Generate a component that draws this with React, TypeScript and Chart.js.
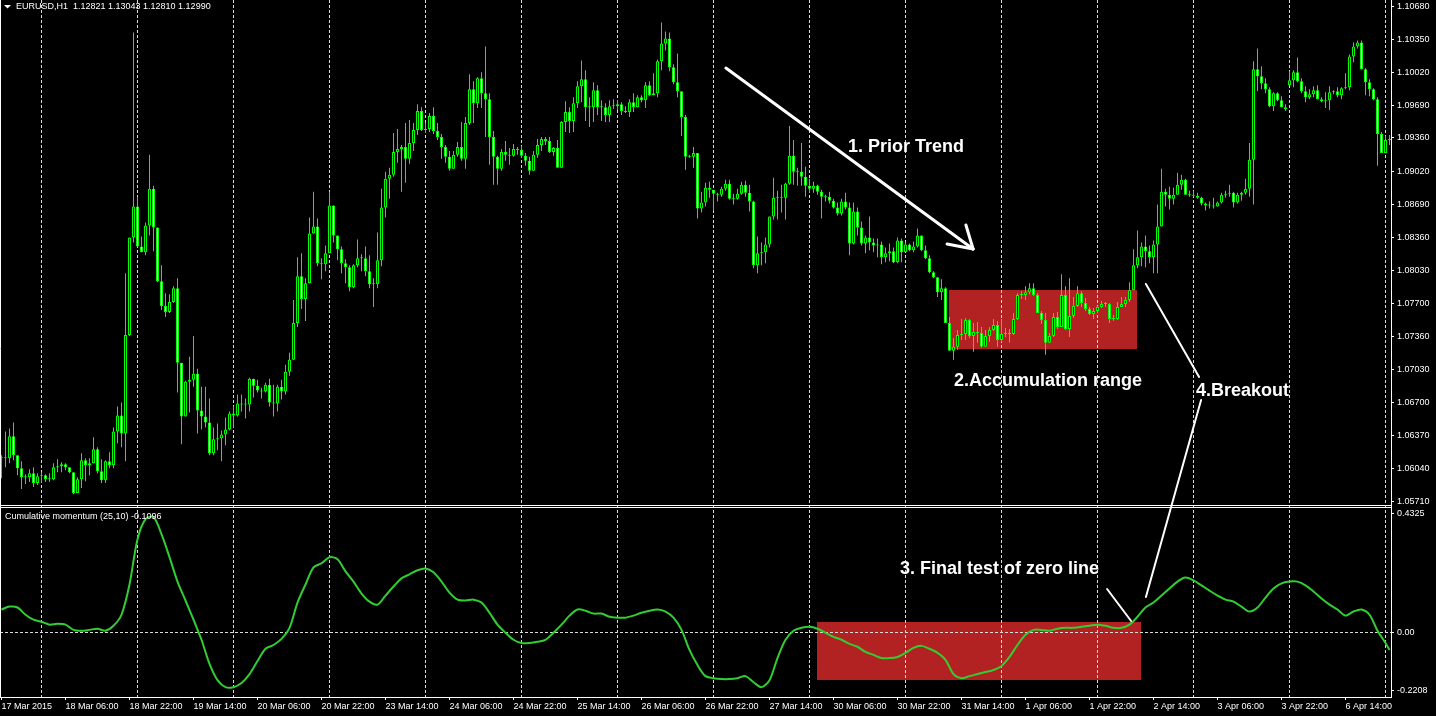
import React, { useEffect, useRef } from 'react';
import { Chart, registerables } from 'chart.js';

Chart.register(...registerables);

// ---------------- data ----------------
const TIME_LABELS = [
  '17 Mar 2015', '18 Mar 06:00', '18 Mar 22:00', '19 Mar 14:00', '20 Mar 06:00', '20 Mar 22:00',
  '23 Mar 14:00', '24 Mar 06:00', '24 Mar 22:00', '25 Mar 14:00', '26 Mar 06:00', '26 Mar 22:00',
  '27 Mar 14:00', '30 Mar 06:00', '30 Mar 22:00', '31 Mar 14:00', '1 Apr 06:00', '1 Apr 22:00',
  '2 Apr 14:00', '3 Apr 06:00', '3 Apr 22:00', '6 Apr 14:00',
];
// bar index of each time label (H1 bars, first bar = 17 Mar 14:00)
const LABEL_BARS = [0, 16, 32, 48, 64, 80, 96, 112, 128, 144, 160, 176, 192, 208, 224, 240, 256, 272, 288, 304, 320, 336];
// bar index of each midnight (vertical grid lines)
const DAY_BARS = [10, 34, 58, 82, 106, 130, 154, 178, 202, 226, 250, 274, 298, 322, 346];

const PRICE_TICKS = [1.1068, 1.1035, 1.1002, 1.0969, 1.0936, 1.0902, 1.0869, 1.0836, 1.0803, 1.077, 1.0736, 1.0703, 1.067, 1.0637, 1.0604, 1.0571];

const OPEN = [
  1.0615, 1.0614, 1.0614, 1.0636, 1.0617, 1.0604, 1.0595, 1.0595, 1.0599, 1.0589,
  1.0596, 1.0597, 1.0593, 1.0593, 1.0605, 1.0606, 1.0608, 1.0605, 1.0600, 1.0579,
  1.0593, 1.0612, 1.0607, 1.0609, 1.0623, 1.0601, 1.0592, 1.0611, 1.0607, 1.0641,
  1.0657, 1.0639, 1.0738, 1.0836, 1.0867, 1.0827, 1.0821, 1.0848, 1.0885, 1.0846,
  1.0792, 1.0767, 1.0761, 1.0771, 1.0785, 1.0710, 1.0656, 1.0691, 1.0693, 1.0699,
  1.0662, 1.0656, 1.0650, 1.0619, 1.0633, 1.0634, 1.0638, 1.0643, 1.0659, 1.0657,
  1.0669, 1.0668, 1.0668, 1.0694, 1.0687, 1.0682, 1.0681, 1.0688, 1.0670, 1.0669,
  1.0686, 1.0681, 1.0701, 1.0713, 1.0750, 1.0797, 1.0774, 1.0790, 1.0840, 1.0847,
  1.0810, 1.0809, 1.0820, 1.0868, 1.0838, 1.0824, 1.0810, 1.0806, 1.0786, 1.0808,
  1.0815, 1.0815, 1.0802, 1.0789, 1.0789, 1.0813, 1.0866, 1.0895, 1.0899, 1.0922,
  1.0925, 1.0927, 1.0915, 1.0931, 1.0944, 1.0963, 1.0944, 1.0945, 1.0958, 1.0943,
  1.0937, 1.0927, 1.0917, 1.0905, 1.0919, 1.0927, 1.0915, 1.0951, 1.0985, 1.0971,
  1.0996, 1.0981, 1.0975, 1.0937, 1.0917, 1.0905, 1.0922, 1.0919, 1.0918, 1.0925,
  1.0924, 1.0918, 1.0913, 1.0903, 1.0919, 1.0929, 1.0935, 1.0933, 1.0922, 1.0926,
  1.0906, 1.0952, 1.0962, 1.0953, 1.0971, 1.0988, 1.0995, 1.0967, 1.0967, 1.0984,
  1.0967, 1.0967, 1.0959, 1.0968, 1.0968, 1.0970, 1.0963, 1.0962, 1.0972, 1.0967,
  1.0977, 1.0974, 1.0989, 1.0979, 1.0981, 1.1013, 1.1031, 1.1036, 1.1007, 1.0992,
  1.0983, 1.0957, 1.0917, 1.0917, 1.0921, 1.0865, 1.0871, 1.0886, 1.0884, 1.0880,
  1.0879, 1.0885, 1.0890, 1.0875, 1.0875, 1.0880, 1.0889, 1.0881, 1.0872, 1.0808,
  1.0820, 1.0821, 1.0829, 1.0857, 1.0876, 1.0876, 1.0876, 1.0890, 1.0918, 1.0902,
  1.0902, 1.0897, 1.0888, 1.0885, 1.0888, 1.0882, 1.0877, 1.0877, 1.0873, 1.0866,
  1.0860, 1.0872, 1.0866, 1.0830, 1.0862, 1.0846, 1.0830, 1.0836, 1.0831, 1.0828,
  1.0829, 1.0816, 1.0820, 1.0822, 1.0811, 1.0833, 1.0821, 1.0829, 1.0823, 1.0827,
  1.0838, 1.0823, 1.0815, 1.0801, 1.0796, 1.0781, 1.0785, 1.0750, 1.0722, 1.0726,
  1.0738, 1.0739, 1.0753, 1.0737, 1.0741, 1.0740, 1.0726, 1.0737, 1.0743, 1.0748,
  1.0733, 1.0739, 1.0740, 1.0739, 1.0754, 1.0778, 1.0778, 1.0781, 1.0785, 1.0778,
  1.0760, 1.0753, 1.0730, 1.0737, 1.0756, 1.0746, 1.0778, 1.0744, 1.0757, 1.0767,
  1.0780, 1.0770, 1.0764, 1.0759, 1.0762, 1.0766, 1.0769, 1.0769, 1.0754, 1.0754,
  1.0766, 1.0769, 1.0773, 1.0783, 1.0808, 1.0816, 1.0827, 1.0822, 1.0816, 1.0829,
  1.0847, 1.0882, 1.0879, 1.0875, 1.0879, 1.0889, 1.0894, 1.0879, 1.0879, 1.0878,
  1.0876, 1.0870, 1.0868, 1.0868, 1.0867, 1.0871, 1.0879, 1.0880, 1.0881, 1.0871,
  1.0879, 1.0881, 1.0885, 1.0914, 1.1005, 1.0998, 1.0991, 1.0985, 1.0968, 1.0981,
  1.0974, 1.0967, 1.0989, 1.0994, 1.1002, 1.0993, 1.0983, 1.0977, 1.0980, 1.0984,
  1.0975, 1.0973, 1.0974, 1.0982, 1.0983, 1.0979, 1.0986, 1.0987, 1.1018, 1.1028,
  1.1032, 1.1005, 1.0992, 1.0985, 1.0975, 1.0940, 1.0921, 1.0934,
];
const HIGH = [
  1.0617, 1.0641, 1.0644, 1.0650, 1.0617, 1.0611, 1.0598, 1.0603, 1.0605, 1.0599,
  1.0600, 1.0598, 1.0599, 1.0609, 1.0613, 1.0610, 1.0609, 1.0605, 1.0600, 1.0595,
  1.0619, 1.0614, 1.0614, 1.0635, 1.0625, 1.0613, 1.0612, 1.0620, 1.0645, 1.0666,
  1.0670, 1.0800, 1.0836, 1.1042, 1.0877, 1.0837, 1.0851, 1.0919, 1.0888, 1.0846,
  1.0808, 1.0780, 1.0779, 1.0787, 1.0795, 1.0710, 1.0692, 1.0716, 1.0737, 1.0704,
  1.0686, 1.0686, 1.0674, 1.0645, 1.0649, 1.0642, 1.0655, 1.0661, 1.0666, 1.0678,
  1.0678, 1.0674, 1.0695, 1.0694, 1.0693, 1.0685, 1.0690, 1.0694, 1.0688, 1.0688,
  1.0693, 1.0708, 1.0720, 1.0773, 1.0816, 1.0820, 1.0795, 1.0856, 1.0882, 1.0855,
  1.0815, 1.0828, 1.0882, 1.0868, 1.0838, 1.0827, 1.0814, 1.0808, 1.0809, 1.0834,
  1.0819, 1.0827, 1.0818, 1.0795, 1.0841, 1.0885, 1.0902, 1.0906, 1.0941, 1.0945,
  1.0929, 1.0951, 1.0954, 1.0951, 1.0970, 1.0967, 1.0951, 1.0961, 1.0967, 1.0951,
  1.0940, 1.0929, 1.0923, 1.0923, 1.0932, 1.0952, 1.0957, 1.1000, 1.0993, 1.0997,
  1.1002, 1.1028, 1.0981, 1.0943, 1.0918, 1.0925, 1.0933, 1.0926, 1.0930, 1.0927,
  1.0928, 1.0921, 1.0917, 1.0923, 1.0935, 1.0937, 1.0937, 1.0937, 1.0927, 1.0934,
  1.0953, 1.0973, 1.0967, 1.0977, 1.0993, 1.1014, 1.1004, 1.0977, 1.0992, 1.0989,
  1.0974, 1.0971, 1.0974, 1.0975, 1.0974, 1.0972, 1.0968, 1.0975, 1.0981, 1.0979,
  1.0979, 1.0992, 1.0993, 1.1001, 1.1015, 1.1052, 1.1043, 1.1042, 1.1010, 1.1021,
  1.0983, 1.0959, 1.0919, 1.0927, 1.0921, 1.0882, 1.0891, 1.0892, 1.0881, 1.0881,
  1.0887, 1.0894, 1.0894, 1.0880, 1.0885, 1.0892, 1.0893, 1.0889, 1.0873, 1.0837,
  1.0831, 1.0836, 1.0857, 1.0896, 1.0883, 1.0889, 1.0891, 1.0948, 1.0934, 1.0906,
  1.0931, 1.0907, 1.0895, 1.0892, 1.0889, 1.0884, 1.0879, 1.0882, 1.0875, 1.0871,
  1.0875, 1.0881, 1.0871, 1.0871, 1.0866, 1.0852, 1.0838, 1.0857, 1.0835, 1.0835,
  1.0832, 1.0826, 1.0830, 1.0826, 1.0836, 1.0835, 1.0831, 1.0830, 1.0832, 1.0845,
  1.0838, 1.0828, 1.0818, 1.0802, 1.0796, 1.0794, 1.0786, 1.0756, 1.0735, 1.0743,
  1.0754, 1.0755, 1.0754, 1.0750, 1.0751, 1.0746, 1.0743, 1.0746, 1.0754, 1.0752,
  1.0754, 1.0745, 1.0744, 1.0760, 1.0780, 1.0782, 1.0787, 1.0790, 1.0790, 1.0780,
  1.0762, 1.0760, 1.0740, 1.0760, 1.0761, 1.0799, 1.0787, 1.0795, 1.0776, 1.0787,
  1.0782, 1.0775, 1.0766, 1.0765, 1.0767, 1.0772, 1.0771, 1.0770, 1.0758, 1.0771,
  1.0776, 1.0776, 1.0791, 1.0824, 1.0843, 1.0831, 1.0838, 1.0828, 1.0833, 1.0869,
  1.0905, 1.0885, 1.0887, 1.0886, 1.0901, 1.0899, 1.0895, 1.0883, 1.0883, 1.0881,
  1.0877, 1.0871, 1.0872, 1.0876, 1.0872, 1.0881, 1.0883, 1.0889, 1.0882, 1.0881,
  1.0882, 1.0895, 1.0931, 1.1013, 1.1026, 1.1008, 1.0996, 1.0987, 1.0982, 1.0982,
  1.0978, 1.0970, 1.1003, 1.1004, 1.1017, 1.0996, 1.0988, 1.0985, 1.0988, 1.0989,
  1.0977, 1.0982, 1.0988, 1.0984, 1.0987, 1.0987, 1.1001, 1.1020, 1.1032, 1.1034,
  1.1034, 1.1006, 1.0995, 1.0986, 1.0977, 1.0942, 1.0938, 1.0939,
];
const LOW = [
  1.0594, 1.0605, 1.0609, 1.0612, 1.0597, 1.0583, 1.0588, 1.0590, 1.0585, 1.0587,
  1.0589, 1.0590, 1.0590, 1.0592, 1.0600, 1.0600, 1.0602, 1.0599, 1.0578, 1.0579,
  1.0584, 1.0591, 1.0597, 1.0609, 1.0599, 1.0589, 1.0589, 1.0604, 1.0604, 1.0629,
  1.0625, 1.0611, 1.0737, 1.0831, 1.0827, 1.0821, 1.0818, 1.0838, 1.0822, 1.0791,
  1.0763, 1.0756, 1.0760, 1.0770, 1.0680, 1.0628, 1.0656, 1.0660, 1.0686, 1.0639,
  1.0643, 1.0645, 1.0617, 1.0617, 1.0622, 1.0611, 1.0627, 1.0642, 1.0645, 1.0656,
  1.0661, 1.0654, 1.0661, 1.0675, 1.0680, 1.0674, 1.0680, 1.0666, 1.0656, 1.0661,
  1.0673, 1.0678, 1.0697, 1.0713, 1.0746, 1.0764, 1.0752, 1.0790, 1.0840, 1.0807,
  1.0794, 1.0802, 1.0833, 1.0831, 1.0813, 1.0800, 1.0790, 1.0782, 1.0785, 1.0806,
  1.0802, 1.0797, 1.0785, 1.0766, 1.0785, 1.0807, 1.0856, 1.0875, 1.0897, 1.0911,
  1.0882, 1.0891, 1.0910, 1.0923, 1.0939, 1.0943, 1.0941, 1.0942, 1.0940, 1.0934,
  1.0915, 1.0911, 1.0903, 1.0905, 1.0917, 1.0913, 1.0905, 1.0949, 1.0951, 1.0966,
  1.0966, 1.0937, 1.0909, 1.0889, 1.0889, 1.0903, 1.0913, 1.0909, 1.0917, 1.0919,
  1.0916, 1.0908, 1.0899, 1.0903, 1.0916, 1.0923, 1.0929, 1.0921, 1.0918, 1.0906,
  1.0906, 1.0942, 1.0941, 1.0942, 1.0966, 1.0972, 1.0953, 1.0947, 1.0952, 1.0959,
  1.0953, 1.0952, 1.0952, 1.0965, 1.0964, 1.0959, 1.0961, 1.0957, 1.0962, 1.0967,
  1.0972, 1.0966, 1.0978, 1.0979, 1.0977, 1.1004, 1.1024, 1.1003, 1.0990, 1.0977,
  1.0938, 1.0904, 1.0916, 1.0906, 1.0855, 1.0861, 1.0867, 1.0876, 1.0863, 1.0872,
  1.0877, 1.0883, 1.0874, 1.0869, 1.0874, 1.0879, 1.0877, 1.0862, 1.0805, 1.0800,
  1.0808, 1.0810, 1.0826, 1.0854, 1.0854, 1.0861, 1.0854, 1.0889, 1.0889, 1.0888,
  1.0888, 1.0877, 1.0881, 1.0881, 1.0879, 1.0855, 1.0872, 1.0870, 1.0865, 1.0858,
  1.0858, 1.0864, 1.0818, 1.0829, 1.0838, 1.0828, 1.0820, 1.0823, 1.0821, 1.0816,
  1.0809, 1.0811, 1.0812, 1.0810, 1.0810, 1.0811, 1.0823, 1.0822, 1.0821, 1.0826,
  1.0822, 1.0814, 1.0800, 1.0795, 1.0776, 1.0773, 1.0750, 1.0722, 1.0713, 1.0723,
  1.0733, 1.0733, 1.0735, 1.0721, 1.0730, 1.0725, 1.0726, 1.0731, 1.0742, 1.0726,
  1.0731, 1.0736, 1.0730, 1.0738, 1.0753, 1.0774, 1.0773, 1.0779, 1.0777, 1.0760,
  1.0749, 1.0718, 1.0730, 1.0736, 1.0744, 1.0746, 1.0743, 1.0736, 1.0755, 1.0766,
  1.0766, 1.0762, 1.0758, 1.0754, 1.0760, 1.0765, 1.0766, 1.0750, 1.0752, 1.0753,
  1.0766, 1.0766, 1.0771, 1.0783, 1.0805, 1.0807, 1.0806, 1.0810, 1.0800, 1.0800,
  1.0847, 1.0867, 1.0864, 1.0869, 1.0879, 1.0884, 1.0879, 1.0877, 1.0877, 1.0875,
  1.0868, 1.0863, 1.0865, 1.0865, 1.0867, 1.0870, 1.0876, 1.0877, 1.0866, 1.0870,
  1.0873, 1.0879, 1.0877, 1.0869, 1.0983, 1.0985, 1.0981, 1.0967, 1.0963, 1.0973,
  1.0967, 1.0963, 1.0989, 1.0987, 1.0992, 1.0981, 1.0972, 1.0975, 1.0977, 1.0975,
  1.0972, 1.0966, 1.0964, 1.0980, 1.0977, 1.0975, 1.0985, 1.0984, 1.1012, 1.1026,
  1.1005, 1.0979, 1.0978, 1.0974, 1.0908, 1.0921, 1.0924, 1.0929,
];
const CLOSE = [
  1.0614, 1.0614, 1.0636, 1.0617, 1.0604, 1.0595, 1.0595, 1.0599, 1.0589, 1.0596,
  1.0597, 1.0593, 1.0593, 1.0605, 1.0606, 1.0608, 1.0605, 1.0600, 1.0579, 1.0593,
  1.0612, 1.0607, 1.0609, 1.0623, 1.0601, 1.0592, 1.0611, 1.0607, 1.0641, 1.0657,
  1.0639, 1.0738, 1.0836, 1.0867, 1.0827, 1.0821, 1.0848, 1.0885, 1.0846, 1.0792,
  1.0767, 1.0761, 1.0771, 1.0785, 1.0710, 1.0656, 1.0691, 1.0693, 1.0699, 1.0662,
  1.0656, 1.0650, 1.0619, 1.0633, 1.0634, 1.0638, 1.0643, 1.0659, 1.0657, 1.0669,
  1.0668, 1.0668, 1.0694, 1.0687, 1.0682, 1.0681, 1.0688, 1.0670, 1.0669, 1.0686,
  1.0681, 1.0701, 1.0713, 1.0750, 1.0797, 1.0774, 1.0790, 1.0840, 1.0847, 1.0810,
  1.0809, 1.0820, 1.0868, 1.0838, 1.0824, 1.0810, 1.0806, 1.0786, 1.0808, 1.0815,
  1.0815, 1.0802, 1.0789, 1.0789, 1.0813, 1.0866, 1.0895, 1.0899, 1.0922, 1.0925,
  1.0927, 1.0915, 1.0931, 1.0944, 1.0963, 1.0944, 1.0945, 1.0958, 1.0943, 1.0937,
  1.0927, 1.0917, 1.0905, 1.0919, 1.0927, 1.0915, 1.0951, 1.0985, 1.0971, 1.0996,
  1.0981, 1.0975, 1.0937, 1.0917, 1.0905, 1.0922, 1.0919, 1.0918, 1.0925, 1.0924,
  1.0918, 1.0913, 1.0903, 1.0919, 1.0929, 1.0935, 1.0933, 1.0922, 1.0926, 1.0906,
  1.0952, 1.0962, 1.0953, 1.0971, 1.0988, 1.0995, 1.0967, 1.0967, 1.0984, 1.0967,
  1.0967, 1.0959, 1.0968, 1.0968, 1.0970, 1.0963, 1.0962, 1.0972, 1.0967, 1.0977,
  1.0974, 1.0989, 1.0979, 1.0981, 1.1013, 1.1031, 1.1036, 1.1007, 1.0992, 1.0983,
  1.0957, 1.0917, 1.0917, 1.0921, 1.0865, 1.0871, 1.0886, 1.0884, 1.0880, 1.0879,
  1.0885, 1.0890, 1.0875, 1.0875, 1.0880, 1.0889, 1.0881, 1.0872, 1.0808, 1.0820,
  1.0821, 1.0829, 1.0857, 1.0876, 1.0876, 1.0876, 1.0890, 1.0918, 1.0902, 1.0902,
  1.0897, 1.0888, 1.0885, 1.0888, 1.0882, 1.0877, 1.0877, 1.0873, 1.0866, 1.0860,
  1.0872, 1.0866, 1.0830, 1.0862, 1.0846, 1.0830, 1.0836, 1.0831, 1.0828, 1.0829,
  1.0816, 1.0820, 1.0822, 1.0811, 1.0833, 1.0821, 1.0829, 1.0823, 1.0827, 1.0838,
  1.0823, 1.0815, 1.0801, 1.0796, 1.0781, 1.0785, 1.0750, 1.0722, 1.0726, 1.0738,
  1.0739, 1.0753, 1.0737, 1.0741, 1.0740, 1.0726, 1.0737, 1.0743, 1.0748, 1.0733,
  1.0739, 1.0740, 1.0739, 1.0754, 1.0778, 1.0778, 1.0781, 1.0785, 1.0778, 1.0760,
  1.0753, 1.0730, 1.0737, 1.0756, 1.0746, 1.0778, 1.0744, 1.0757, 1.0767, 1.0780,
  1.0770, 1.0764, 1.0759, 1.0762, 1.0766, 1.0769, 1.0769, 1.0754, 1.0754, 1.0766,
  1.0769, 1.0773, 1.0783, 1.0808, 1.0816, 1.0827, 1.0822, 1.0816, 1.0829, 1.0847,
  1.0882, 1.0879, 1.0875, 1.0879, 1.0889, 1.0894, 1.0879, 1.0879, 1.0878, 1.0876,
  1.0870, 1.0868, 1.0868, 1.0867, 1.0871, 1.0879, 1.0880, 1.0881, 1.0871, 1.0879,
  1.0881, 1.0885, 1.0914, 1.1005, 1.0998, 1.0991, 1.0985, 1.0968, 1.0981, 1.0974,
  1.0967, 1.0965, 1.0994, 1.1002, 1.0993, 1.0983, 1.0977, 1.0980, 1.0984, 1.0975,
  1.0973, 1.0974, 1.0982, 1.0983, 1.0979, 1.0986, 1.0987, 1.1018, 1.1028, 1.1032,
  1.1005, 1.0992, 1.0985, 1.0975, 1.0940, 1.0921, 1.0934, 1.0934,
];

// Cumulative momentum (25,10), read every 2nd bar, plus the last visible bar
const MOMENTUM_BARS = [...Array.from({ length: 174 }, (_, k) => 2 * k), 347];
const MOMENTUM = [
  0.080, 0.090, 0.087, 0.062, 0.045, 0.038, 0.028, 0.031, 0.028, 0.010,
  0.007, 0.010, 0.014, 0.007, 0.024, 0.062, 0.166, 0.322, 0.391, 0.398,
  0.339, 0.260, 0.176, 0.111, 0.045, -0.024, -0.107, -0.163, -0.187, -0.187,
  -0.173, -0.142, -0.097, -0.055, -0.042, -0.021, 0.017, 0.104, 0.166, 0.225,
  0.239, 0.260, 0.253, 0.211, 0.176, 0.135, 0.107, 0.097, 0.128, 0.159,
  0.187, 0.201, 0.215, 0.221, 0.208, 0.176, 0.138, 0.114, 0.111, 0.114,
  0.104, 0.069, 0.028, 0.000, -0.024, -0.035, -0.035, -0.031, -0.024, 0.000,
  0.028, 0.059, 0.080, 0.076, 0.066, 0.066, 0.055, 0.052, 0.052, 0.059,
  0.069, 0.076, 0.080, 0.073, 0.052, 0.010, -0.059, -0.111, -0.149, -0.156,
  -0.159, -0.159, -0.156, -0.149, -0.170, -0.187, -0.163, -0.087, -0.024, 0.007,
  0.017, 0.021, 0.014, 0.000, -0.014, -0.024, -0.038, -0.048, -0.066, -0.076,
  -0.087, -0.087, -0.083, -0.069, -0.052, -0.045, -0.055, -0.069, -0.093, -0.142,
  -0.156, -0.149, -0.142, -0.135, -0.128, -0.114, -0.083, -0.042, -0.007, 0.010,
  0.010, 0.007, 0.014, 0.017, 0.017, 0.021, 0.024, 0.028, 0.024, 0.017,
  0.017, 0.028, 0.055, 0.087, 0.104, 0.128, 0.152, 0.176, 0.190, 0.180,
  0.163, 0.145, 0.128, 0.114, 0.107, 0.090, 0.073, 0.087, 0.121, 0.152,
  0.170, 0.176, 0.176, 0.163, 0.142, 0.118, 0.097, 0.080, 0.059, 0.073,
  0.080, 0.062, 0.007, -0.035, -0.059,
];
const MOMENTUM_TICK_LABELS = ['0.4325', '0.00', '-0.2208'];

const TITLE = 'EURUSD,H1  1.12821 1.13043 1.12810 1.12990';
const INDICATOR_TITLE = 'Cumulative momentum (25,10) -0.1096';

// ---------------- layout / style ----------------
const W = 1436;
const H = 716;
const X_MIN = -0.375;
const X_MAX = 347.375;
const PRICE_MIN = 1.0567;
const PRICE_MAX = 1.10747;
const MOM_MIN = -0.2208;
const MOM_MAX = 0.4394;
// MT4 prints the extreme labels just inside the pane edges
const MOM_TICK_AT = [0.4102, 0, -0.1991];

const LIME = '#00ff00';
const MOM_COLOR = '#32cd32';
const GRID = '#dcdcdc';
const BOX = '#b22222';
const FONT = '"Liberation Sans", Arial, sans-serif';

const ACCUM_BOX = { bar0: 236.875, bar1: 283.875, top: 1.07832, bottom: 1.07238 };
const ZERO_BOX = { bar0: 203.875, bar1: 284.875, top: 0.0371, bottom: -0.1624 };

type Pt = [number, number, 'y' | 'y2'];
const LINES: { w: number; a: Pt; b: Pt }[] = [
  { w: 3, a: [181.1, 1.10063, 'y'], b: [242.9, 1.08244, 'y'] },
  { w: 3, a: [242.9, 1.08244, 'y'], b: [241.1, 1.08485, 'y'] },
  { w: 3, a: [242.9, 1.08244, 'y'], b: [236.4, 1.08294, 'y'] },
  { w: 2, a: [286.1, 1.07892, 'y'], b: [299.4, 1.06957, 'y'] },
  { w: 2, a: [299.9, 1.06726, 'y'], b: [286.1, 0.123, 'y2'] },
  { w: 2, a: [276.4, 0.1505, 'y2'], b: [282.4, 0.0405, 'y2'] },
];
const NOTES: { text: string; at: Pt }[] = [
  { text: '1. Prior Trend', at: [211.6, 1.09264, 'y'] },
  { text: '2.Accumulation range', at: [238.1, 1.06917, 'y'] },
  { text: '4.Breakout', at: [298.6, 1.06816, 'y'] },
  { text: '3. Final test of zero line', at: [224.6, 0.2193, 'y2'] },
];

const X_TICKS = [...LABEL_BARS, ...DAY_BARS].sort((a, b) => a - b);

const overlayPlugin = {
  id: 'mt4Overlay',
  beforeDraw(chart: any) {
    const { ctx, scales } = chart;
    const xs = scales.x;
    ctx.save();
    ctx.fillStyle = '#000';
    ctx.fillRect(0, 0, chart.width, chart.height);
    ctx.fillStyle = BOX;
    const boxes: [typeof ACCUM_BOX, string][] = [[ACCUM_BOX, 'y'], [ZERO_BOX, 'y2']];
    for (const [b, id] of boxes) {
      const ys = scales[id];
      const x1 = Math.round(xs.getPixelForValue(b.bar0));
      const x2 = Math.round(xs.getPixelForValue(b.bar1));
      const y1 = Math.round(ys.getPixelForValue(b.top));
      const y2 = Math.round(ys.getPixelForValue(b.bottom));
      ctx.fillRect(x1, y1, x2 - x1, y2 - y1);
    }
    ctx.restore();
  },
  afterDraw(chart: any) {
    const { ctx, scales, chartArea } = chart;
    const xs = scales.x;
    const P = (p: Pt) => [xs.getPixelForValue(p[0]), scales[p[2]].getPixelForValue(p[1])];
    ctx.save();
    // frame
    ctx.strokeStyle = '#ffffff';
    ctx.lineWidth = 1;
    const sep = Math.round(scales.y.bottom);
    ctx.beginPath();
    ctx.moveTo(0, sep + 0.5);
    ctx.lineTo(chartArea.right + 1, sep + 0.5);
    ctx.moveTo(0, sep + 2.5);
    ctx.lineTo(chartArea.right + 1, sep + 2.5);
    ctx.moveTo(0.5, 0);
    ctx.lineTo(0.5, chartArea.bottom);
    ctx.stroke();

    // titles
    ctx.fillStyle = '#ffffff';
    ctx.beginPath();
    ctx.moveTo(4, 5);
    ctx.lineTo(11, 5);
    ctx.lineTo(7.5, 8.5);
    ctx.closePath();
    ctx.fill();
    ctx.font = `9px ${FONT}`;
    ctx.textBaseline = 'middle';
    ctx.textAlign = 'left';
    ctx.fillText(TITLE, 16, 7);
    ctx.fillText(INDICATOR_TITLE, 5, sep + 12);

    // annotation lines
    ctx.strokeStyle = '#ffffff';
    for (const l of LINES) {
      const [x1, y1] = P(l.a);
      const [x2, y2] = P(l.b);
      ctx.lineWidth = l.w;
      ctx.lineCap = 'round';
      ctx.beginPath();
      ctx.moveTo(x1, y1);
      ctx.lineTo(x2, y2);
      ctx.stroke();
    }
    ctx.font = `bold 18px ${FONT}`;
    for (const n of NOTES) {
      const [x, y] = P(n.at);
      ctx.fillText(n.text, x, y);
    }
    ctx.restore();
  },
};

const axisFont = { family: FONT, size: 9 };

export default function App() {
  const ref = useRef<HTMLCanvasElement>(null);
  useEffect(() => {
    document.body.style.margin = '0';
    document.body.style.background = '#000';
    const bars = CLOSE.map((_, i) => i);
    const wickData = bars.map((i) => ({ x: i, y: [LOW[i], HIGH[i]] }));
    const bodyData = bars.map((i) => ({ x: i, y: [OPEN[i], CLOSE[i]] }));
    const bodyFill = bars.map((i) => (CLOSE[i] < OPEN[i] ? '#ffffff' : '#000000'));
    const momData = MOMENTUM.map((v, k) => ({ x: MOMENTUM_BARS[k], y: v }));

    const chart = new Chart(ref.current as HTMLCanvasElement, {
      type: 'bar',
      data: {
        datasets: [
          {
            type: 'bar', label: 'wick', data: wickData as any, xAxisID: 'x', yAxisID: 'y',
            backgroundColor: LIME, borderWidth: 0, barThickness: 1, grouped: false, order: 2,
            inflateAmount: 0,
          } as any,
          {
            type: 'bar', label: 'body', data: bodyData as any, xAxisID: 'x', yAxisID: 'y',
            backgroundColor: bodyFill, borderColor: LIME, borderWidth: 1, borderSkipped: false,
            barThickness: 3, grouped: false, order: 1, minBarLength: 1, inflateAmount: 0,
          } as any,
          {
            type: 'line', label: 'momentum', data: momData as any, xAxisID: 'x', yAxisID: 'y2',
            borderColor: MOM_COLOR, borderWidth: 2, pointRadius: 0, tension: 0.3, order: 0,
          } as any,
        ],
      },
      options: {
        responsive: false,
        animation: false,
        devicePixelRatio: 1,
        events: [],
        layout: { padding: 0 },
        plugins: { legend: { display: false }, tooltip: { enabled: false } },
        scales: {
          x: {
            type: 'linear', position: 'bottom', min: X_MIN, max: X_MAX, offset: false,
            afterBuildTicks: (s: any) => { s.ticks = X_TICKS.map((v) => ({ value: v })); },
            afterFit: (s: any) => { s.height = 19; s.paddingLeft = 0; s.paddingRight = 0; },
            grid: {
              offset: false, drawOnChartArea: true, drawTicks: true, tickLength: 3, lineWidth: 1,
              color: (c: any) => (c.tick && DAY_BARS.includes(c.tick.value) ? GRID : 'rgba(0,0,0,0)'),
              tickColor: (c: any) => (c.tick && LABEL_BARS.includes(c.tick.value) ? '#ffffff' : 'rgba(0,0,0,0)'),
            },
            border: { display: true, color: '#ffffff', width: 1, dash: [3, 2] },
            ticks: {
              autoSkip: false, maxRotation: 0, minRotation: 0, align: 'start', padding: 1,
              color: '#ffffff', font: axisFont,
              callback: (v: any) => {
                const k = LABEL_BARS.indexOf(Number(v));
                return k >= 0 ? TIME_LABELS[k] : '';
              },
            },
          },
          y: {
            type: 'linear', position: 'right', stack: 'panes', stackWeight: 505,
            min: PRICE_MIN, max: PRICE_MAX, beginAtZero: false,
            afterBuildTicks: (s: any) => { s.ticks = PRICE_TICKS.map((v) => ({ value: v })); },
            afterFit: (s: any) => { s.width = 45; s.paddingTop = 0; s.paddingBottom = 0; },
            grid: { drawOnChartArea: false, drawTicks: true, tickLength: 3, tickColor: '#ffffff' },
            border: { display: true, color: '#ffffff', width: 1 },
            ticks: { padding: 3, color: '#ffffff', font: axisFont, callback: (v: any) => Number(v).toFixed(5) },
          },
          y2: {
            type: 'linear', position: 'right', stack: 'panes', stackWeight: 192,
            min: MOM_MIN, max: MOM_MAX, beginAtZero: false,
            afterBuildTicks: (s: any) => { s.ticks = MOM_TICK_AT.map((v) => ({ value: v })); },
            afterFit: (s: any) => { s.width = 45; s.paddingTop = 0; s.paddingBottom = 0; },
            grid: {
              drawOnChartArea: true, drawTicks: true, tickLength: 3, lineWidth: 1,
              color: (c: any) => (c.tick && c.tick.value === 0 ? GRID : 'rgba(0,0,0,0)'),
              tickColor: '#ffffff',
            },
            border: { display: true, color: '#ffffff', width: 1, dash: [3, 2] },
            ticks: { padding: 3, color: '#ffffff', font: axisFont, callback: (_v: any, i: number) => MOMENTUM_TICK_LABELS[i] },
          },
        } as any,
      },
      plugins: [overlayPlugin],
    });
    return () => chart.destroy();
  }, []);

  return (
    <div style={{ position: 'absolute', left: 0, top: 0, width: W, height: H, background: '#000' }}>
      <canvas ref={ref} width={W} height={H} style={{ display: 'block', width: W, height: H }} />
    </div>
  );
}
